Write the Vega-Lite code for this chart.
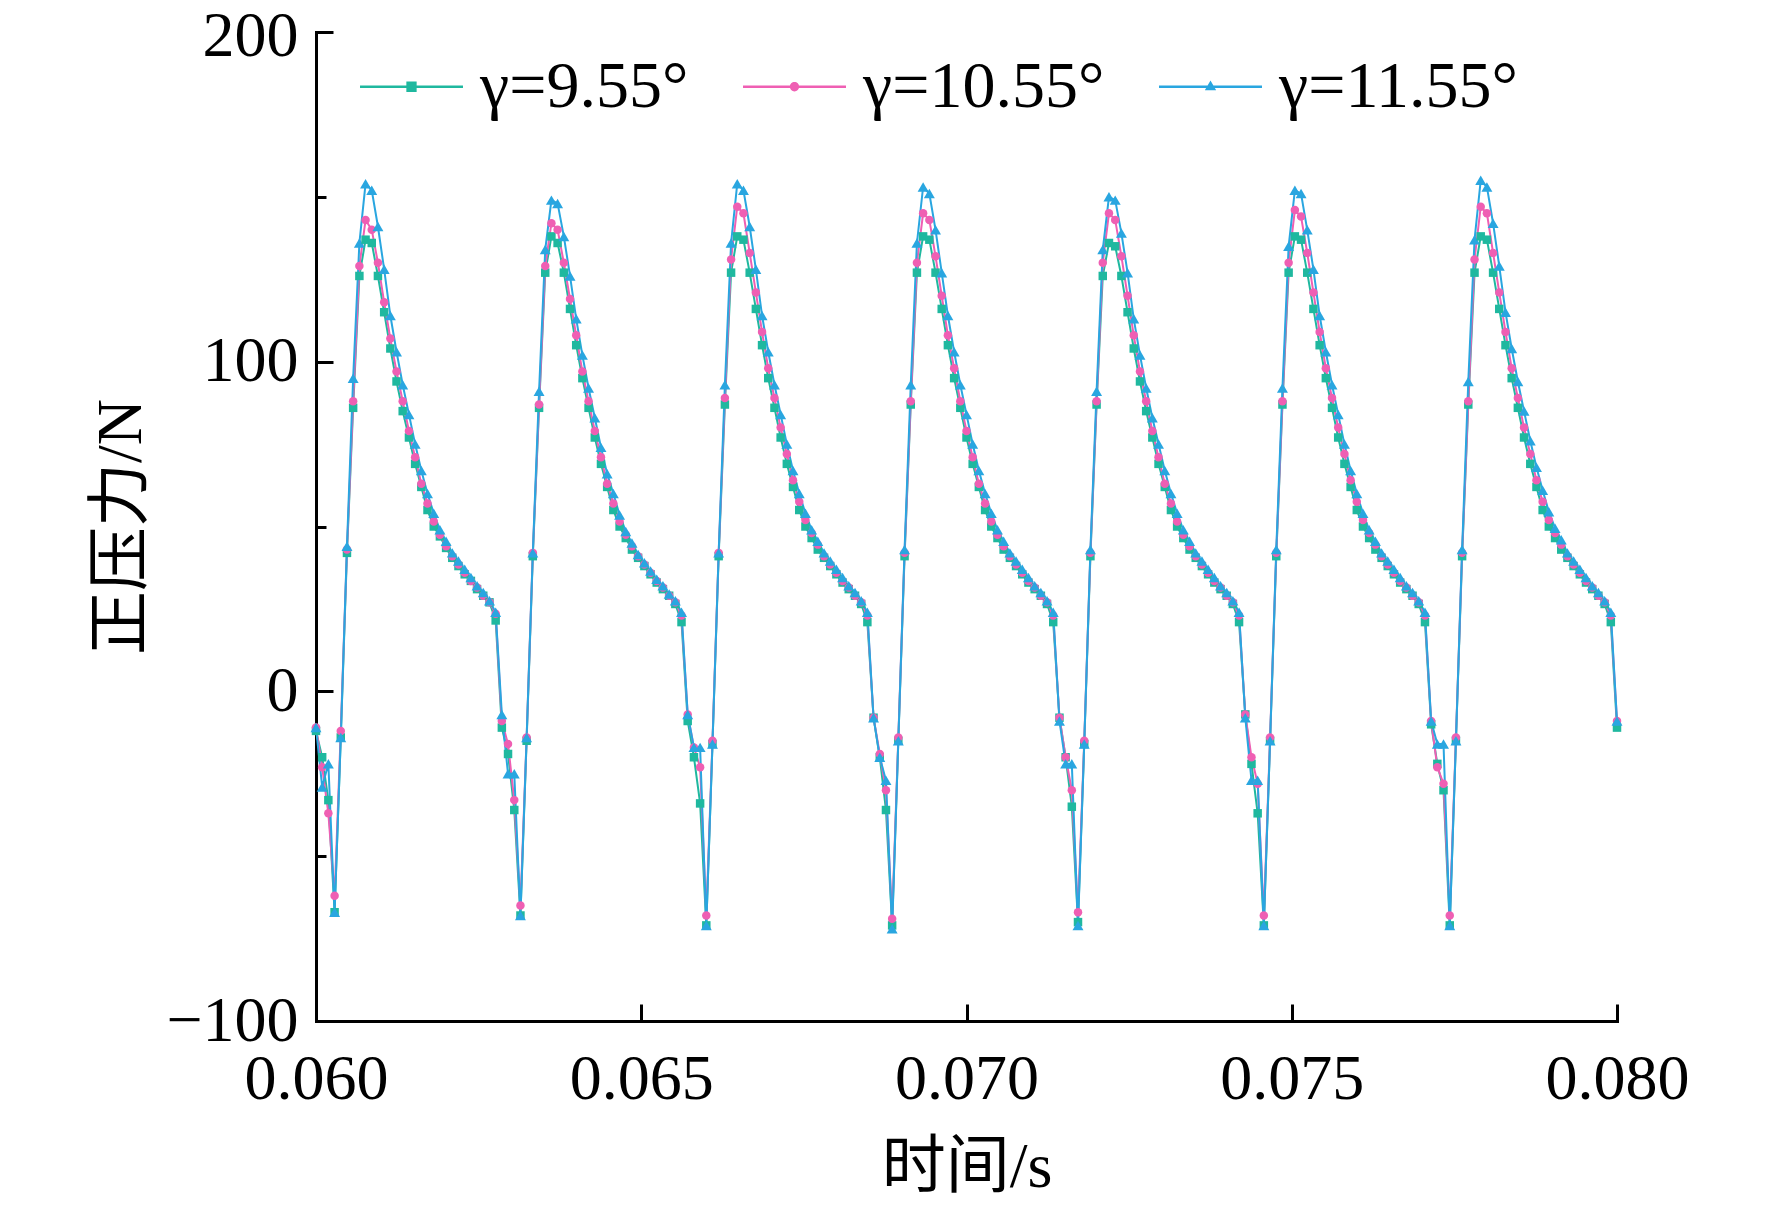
{
  "$schema": "https://vega.github.io/schema/vega-lite/v6.json",
  "width": 1301,
  "height": 989,
  "autosize": "none",
  "padding": {"left": 316, "top": 32, "right": 155, "bottom": 187},
  "background": "white",
  "config": {
    "view": {"stroke": null},
    "font": "Liberation Serif",
    "axis": {
      "grid": false,
      "domainColor": "black",
      "domainWidth": 3,
      "domainCap": "square",
      "tickColor": "black",
      "tickWidth": 3,
      "labelFont": "Liberation Serif",
      "labelFontSize": 64,
      "labelColor": "black",
      "labelFlush": false,
      "titleFont": "Liberation Serif, Noto Sans CJK SC",
      "titleFontSize": 64,
      "titleFontWeight": "normal",
      "titleColor": "black"
    }
  },
  "data": {
    "values": [
      {"t":0.06,"g":-12,"p":-11,"b":-11},
      {"t":0.060095,"g":-20,"p":-23,"b":-29},
      {"t":0.06019,"g":-33,"p":-37,"b":-22},
      {"t":0.060286,"g":-67,"p":-62,"b":-67},
      {"t":0.060381,"g":-14,"p":-12,"b":-14},
      {"t":0.060476,"g":42,"p":43,"b":44},
      {"t":0.060571,"g":86,"p":88,"b":95},
      {"t":0.060667,"g":126,"p":129,"b":136},
      {"t":0.060762,"g":137,"p":143,"b":154},
      {"t":0.060857,"g":136,"p":140,"b":152},
      {"t":0.060952,"g":126,"p":130,"b":141},
      {"t":0.061048,"g":115,"p":118,"b":128},
      {"t":0.061143,"g":104,"p":107,"b":114},
      {"t":0.061238,"g":94,"p":97,"b":103},
      {"t":0.061333,"g":85,"p":88,"b":93},
      {"t":0.061429,"g":77,"p":79,"b":84},
      {"t":0.061524,"g":69,"p":71,"b":75},
      {"t":0.061619,"g":62,"p":63,"b":67},
      {"t":0.061714,"g":55,"p":57,"b":60},
      {"t":0.06181,"g":50,"p":51.5,"b":54},
      {"t":0.061905,"g":47,"p":47.5,"b":49},
      {"t":0.062,"g":43.5,"p":44,"b":45.5},
      {"t":0.062095,"g":40.5,"p":41,"b":42},
      {"t":0.06219,"g":38,"p":38.5,"b":39.5},
      {"t":0.062286,"g":35.5,"p":36,"b":37},
      {"t":0.062381,"g":33.5,"p":33.5,"b":34.5},
      {"t":0.062476,"g":31,"p":31.5,"b":32},
      {"t":0.062571,"g":29,"p":29,"b":30},
      {"t":0.062667,"g":27,"p":27,"b":27.5},
      {"t":0.062762,"g":21.5,"p":23.5,"b":24},
      {"t":0.062857,"g":-11,"p":-9,"b":-7},
      {"t":0.062952,"g":-19,"p":-16,"b":-25},
      {"t":0.063048,"g":-36,"p":-33,"b":-25},
      {"t":0.063143,"g":-68,"p":-65,"b":-68},
      {"t":0.063238,"g":-15,"p":-14,"b":-14},
      {"t":0.063333,"g":41,"p":42,"b":42},
      {"t":0.063429,"g":86,"p":87,"b":91},
      {"t":0.063524,"g":127,"p":129,"b":134},
      {"t":0.063619,"g":138,"p":142,"b":149},
      {"t":0.063714,"g":136,"p":140,"b":148},
      {"t":0.06381,"g":127,"p":130,"b":138},
      {"t":0.063905,"g":116,"p":119,"b":126},
      {"t":0.064,"g":105,"p":108,"b":113},
      {"t":0.064095,"g":95,"p":97,"b":102},
      {"t":0.06419,"g":86,"p":88,"b":92},
      {"t":0.064286,"g":77,"p":79,"b":83},
      {"t":0.064381,"g":69,"p":71,"b":74},
      {"t":0.064476,"g":62,"p":63,"b":66},
      {"t":0.064571,"g":55,"p":57,"b":60},
      {"t":0.064667,"g":50,"p":51.5,"b":53.5},
      {"t":0.064762,"g":46.5,"p":47.5,"b":48.5},
      {"t":0.064857,"g":43,"p":44,"b":45},
      {"t":0.064952,"g":40.5,"p":41,"b":41.5},
      {"t":0.065048,"g":38,"p":38.5,"b":39},
      {"t":0.065143,"g":35.5,"p":36,"b":36.5},
      {"t":0.065238,"g":33,"p":33.5,"b":34},
      {"t":0.065333,"g":31,"p":31.5,"b":32},
      {"t":0.065429,"g":29,"p":29,"b":29.5},
      {"t":0.065524,"g":26.5,"p":27,"b":27.5},
      {"t":0.065619,"g":21,"p":23,"b":24},
      {"t":0.065714,"g":-9,"p":-7,"b":-7},
      {"t":0.06581,"g":-20,"p":-17,"b":-17},
      {"t":0.065905,"g":-34,"p":-23,"b":-17},
      {"t":0.066,"g":-71,"p":-68,"b":-71},
      {"t":0.066095,"g":-16,"p":-15,"b":-16},
      {"t":0.06619,"g":41,"p":42,"b":42},
      {"t":0.066286,"g":87,"p":89,"b":93},
      {"t":0.066381,"g":127,"p":131,"b":136},
      {"t":0.066476,"g":138,"p":147,"b":154},
      {"t":0.066571,"g":137,"p":145,"b":152},
      {"t":0.066667,"g":127,"p":133,"b":141},
      {"t":0.066762,"g":116,"p":121,"b":128},
      {"t":0.066857,"g":105,"p":109,"b":114},
      {"t":0.066952,"g":95,"p":98,"b":103},
      {"t":0.067048,"g":86,"p":89,"b":93},
      {"t":0.067143,"g":77,"p":80,"b":84},
      {"t":0.067238,"g":69,"p":72,"b":75},
      {"t":0.067333,"g":62,"p":64,"b":67},
      {"t":0.067429,"g":55,"p":57.5,"b":60},
      {"t":0.067524,"g":50,"p":52,"b":54},
      {"t":0.067619,"g":46.5,"p":48,"b":49},
      {"t":0.067714,"g":43,"p":44.5,"b":45.5},
      {"t":0.06781,"g":40.5,"p":41,"b":42},
      {"t":0.067905,"g":38,"p":38.5,"b":39.5},
      {"t":0.068,"g":35.5,"p":36,"b":37},
      {"t":0.068095,"g":33,"p":33.5,"b":34.5},
      {"t":0.06819,"g":31,"p":31.5,"b":32},
      {"t":0.068286,"g":29,"p":29,"b":30},
      {"t":0.068381,"g":26.5,"p":27,"b":27.5},
      {"t":0.068476,"g":21,"p":23,"b":24},
      {"t":0.068571,"g":-8,"p":-8,"b":-8},
      {"t":0.068667,"g":-20,"p":-19,"b":-20},
      {"t":0.068762,"g":-36,"p":-30,"b":-27},
      {"t":0.068857,"g":-71,"p":-69,"b":-72},
      {"t":0.068952,"g":-15,"p":-14,"b":-15},
      {"t":0.069048,"g":41,"p":42,"b":43},
      {"t":0.069143,"g":87,"p":88,"b":93},
      {"t":0.069238,"g":127,"p":130,"b":136},
      {"t":0.069333,"g":138,"p":145,"b":153},
      {"t":0.069429,"g":137,"p":143,"b":151},
      {"t":0.069524,"g":127,"p":132,"b":140},
      {"t":0.069619,"g":116,"p":120,"b":127},
      {"t":0.069714,"g":105,"p":108,"b":114},
      {"t":0.06981,"g":95,"p":98,"b":103},
      {"t":0.069905,"g":86,"p":88,"b":93},
      {"t":0.07,"g":77,"p":79,"b":84},
      {"t":0.070095,"g":69,"p":71,"b":75},
      {"t":0.07019,"g":62,"p":63,"b":67},
      {"t":0.070286,"g":55,"p":57,"b":60},
      {"t":0.070381,"g":50,"p":51.5,"b":54},
      {"t":0.070476,"g":46.5,"p":47.5,"b":49},
      {"t":0.070571,"g":43,"p":44,"b":45.5},
      {"t":0.070667,"g":40.5,"p":41,"b":42},
      {"t":0.070762,"g":38,"p":38.5,"b":39.5},
      {"t":0.070857,"g":35.5,"p":36,"b":37},
      {"t":0.070952,"g":33,"p":33.5,"b":34.5},
      {"t":0.071048,"g":31,"p":31.5,"b":32},
      {"t":0.071143,"g":29,"p":29,"b":30},
      {"t":0.071238,"g":26.5,"p":27,"b":27.5},
      {"t":0.071333,"g":21,"p":23,"b":24},
      {"t":0.071429,"g":-8,"p":-8,"b":-9},
      {"t":0.071524,"g":-20,"p":-20,"b":-22},
      {"t":0.071619,"g":-35,"p":-30,"b":-22},
      {"t":0.071714,"g":-70,"p":-67,"b":-71},
      {"t":0.07181,"g":-16,"p":-15,"b":-16},
      {"t":0.071905,"g":41,"p":42,"b":43},
      {"t":0.072,"g":87,"p":88,"b":91},
      {"t":0.072095,"g":126,"p":130,"b":134},
      {"t":0.07219,"g":136,"p":145,"b":150},
      {"t":0.072286,"g":135,"p":143,"b":149},
      {"t":0.072381,"g":126,"p":132,"b":139},
      {"t":0.072476,"g":115,"p":120,"b":127},
      {"t":0.072571,"g":104,"p":108,"b":113},
      {"t":0.072667,"g":94,"p":97,"b":102},
      {"t":0.072762,"g":85,"p":88,"b":92},
      {"t":0.072857,"g":77,"p":79,"b":83},
      {"t":0.072952,"g":69,"p":71,"b":75},
      {"t":0.073048,"g":62,"p":63,"b":67},
      {"t":0.073143,"g":55,"p":57,"b":60},
      {"t":0.073238,"g":50,"p":51.5,"b":54},
      {"t":0.073333,"g":46.5,"p":47.5,"b":49},
      {"t":0.073429,"g":43,"p":44,"b":45.5},
      {"t":0.073524,"g":40.5,"p":41,"b":42},
      {"t":0.073619,"g":38,"p":38.5,"b":39.5},
      {"t":0.073714,"g":35.5,"p":36,"b":37},
      {"t":0.07381,"g":33,"p":33.5,"b":34.5},
      {"t":0.073905,"g":31,"p":31.5,"b":32},
      {"t":0.074,"g":29,"p":29,"b":30},
      {"t":0.074095,"g":26.5,"p":27,"b":27.5},
      {"t":0.07419,"g":21,"p":23,"b":24},
      {"t":0.074286,"g":-7,"p":-7,"b":-8},
      {"t":0.074381,"g":-22,"p":-20,"b":-27},
      {"t":0.074476,"g":-37,"p":-28,"b":-27},
      {"t":0.074571,"g":-71,"p":-68,"b":-71},
      {"t":0.074667,"g":-15,"p":-14,"b":-15},
      {"t":0.074762,"g":41,"p":42,"b":43},
      {"t":0.074857,"g":87,"p":88,"b":92},
      {"t":0.074952,"g":127,"p":130,"b":135},
      {"t":0.075048,"g":138,"p":146,"b":152},
      {"t":0.075143,"g":137,"p":144,"b":151},
      {"t":0.075238,"g":127,"p":133,"b":140},
      {"t":0.075333,"g":116,"p":121,"b":128},
      {"t":0.075429,"g":105,"p":109,"b":114},
      {"t":0.075524,"g":95,"p":98,"b":103},
      {"t":0.075619,"g":86,"p":89,"b":93},
      {"t":0.075714,"g":77,"p":80,"b":84},
      {"t":0.07581,"g":69,"p":72,"b":75},
      {"t":0.075905,"g":62,"p":64,"b":67},
      {"t":0.076,"g":55,"p":57.5,"b":60},
      {"t":0.076095,"g":50,"p":52,"b":54},
      {"t":0.07619,"g":46.5,"p":48,"b":49},
      {"t":0.076286,"g":43,"p":44.5,"b":45.5},
      {"t":0.076381,"g":40.5,"p":41,"b":42},
      {"t":0.076476,"g":38,"p":38.5,"b":39.5},
      {"t":0.076571,"g":35.5,"p":36,"b":37},
      {"t":0.076667,"g":33,"p":33.5,"b":34.5},
      {"t":0.076762,"g":31,"p":31.5,"b":32},
      {"t":0.076857,"g":29,"p":29,"b":30},
      {"t":0.076952,"g":26.5,"p":27,"b":27.5},
      {"t":0.077048,"g":21,"p":23,"b":24},
      {"t":0.077143,"g":-10,"p":-9,"b":-9},
      {"t":0.077238,"g":-22,"p":-23,"b":-16},
      {"t":0.077333,"g":-30,"p":-28,"b":-16},
      {"t":0.077429,"g":-71,"p":-68,"b":-71},
      {"t":0.077524,"g":-15,"p":-14,"b":-15},
      {"t":0.077619,"g":41,"p":42,"b":43},
      {"t":0.077714,"g":87,"p":88,"b":94},
      {"t":0.07781,"g":127,"p":131,"b":137},
      {"t":0.077905,"g":138,"p":147,"b":155},
      {"t":0.078,"g":137,"p":145,"b":153},
      {"t":0.078095,"g":127,"p":133,"b":142},
      {"t":0.07819,"g":116,"p":121,"b":129},
      {"t":0.078286,"g":105,"p":109,"b":115},
      {"t":0.078381,"g":95,"p":98,"b":104},
      {"t":0.078476,"g":86,"p":89,"b":94},
      {"t":0.078571,"g":77,"p":80,"b":85},
      {"t":0.078667,"g":69,"p":72,"b":76},
      {"t":0.078762,"g":62,"p":64,"b":68},
      {"t":0.078857,"g":55,"p":57.5,"b":61},
      {"t":0.078952,"g":50,"p":52,"b":54.5},
      {"t":0.079048,"g":46.5,"p":48,"b":49.5},
      {"t":0.079143,"g":43,"p":44.5,"b":46},
      {"t":0.079238,"g":40.5,"p":41,"b":42},
      {"t":0.079333,"g":38,"p":38.5,"b":39.5},
      {"t":0.079429,"g":35.5,"p":36,"b":37},
      {"t":0.079524,"g":33,"p":33.5,"b":34.5},
      {"t":0.079619,"g":31,"p":31.5,"b":32},
      {"t":0.079714,"g":29,"p":29,"b":30},
      {"t":0.07981,"g":26.5,"p":27,"b":27.5},
      {"t":0.079905,"g":21,"p":23,"b":24},
      {"t":0.08,"g":-11,"p":-9,"b":-9}
    ]
  },
  "transform": [{"fold": ["g", "p", "b"], "as": ["s", "v"]}],
  "encoding": {
    "x": {
      "field": "t",
      "type": "quantitative",
      "scale": {"domain": [0.06, 0.08], "nice": false, "zero": false},
      "axis": {
        "title": "时间/s",
        "values": [0.06, 0.065, 0.07, 0.075, 0.08],
        "format": ".3f",
        "tickSize": -17,
        "labelPadding": 43,
        "titlePadding": 24
      }
    },
    "y": {
      "field": "v",
      "type": "quantitative",
      "scale": {"domain": [-100, 200], "nice": false, "zero": false},
      "axis": {
        "title": "正压力/N",
        "values": [-100, -50, 0, 50, 100, 150, 200],
        "labelExpr": "datum.value % 100 === 0 ? datum.label : ''",
        "tickSize": {"condition": {"test": "datum.value % 100 === 0", "value": -17}, "value": -10},
        "labelOffset": {"condition": {"test": "datum.value === 200", "value": 4}, "value": 0},
        "labelPadding": 35,
        "titlePadding": 12
      }
    },
    "color": {
      "field": "s",
      "type": "nominal",
      "scale": {"domain": ["g", "p", "b"], "range": ["#1fb89f", "#ef5fb3", "#29a6e0"]},
      "legend": {
        "orient": "none",
        "legendX": 44,
        "legendY": 3,
        "direction": "horizontal",
        "title": null,
        "labelExpr": "datum.value === 'g' ? 'γ=9.55°' : datum.value === 'p' ? 'γ=10.55°' : 'γ=11.55°'",
        "labelFont": "Liberation Serif",
        "labelFontSize": 66,
        "labelColor": "black",
        "labelLimit": 0,
        "labelOffset": 17,
        "columnPadding": 54,
        "symbolSize": 10600,
        "symbolStrokeWidth": 0,
        "encode": {
          "symbols": {
            "update": {
              "shape": {"signal": "datum.value === 'g' ? 'M-1,-0.025H1V0.025H-1Z M-0.1,-0.1H0.1V0.1H-0.1Z' : datum.value === 'p' ? 'M-1,-0.025H1V0.025H-1Z M0.09,0A0.09,0.09 0 1,1 -0.09,0A0.09,0.09 0 1,1 0.09,0Z' : 'M-1,-0.025H1V0.025H-1Z M0,-0.12L0.11,0.07L-0.11,0.07Z'"},
              "fill": {"signal": "scale('color', datum.value)"},
              "strokeWidth": {"value": 0},
              "opacity": {"value": 1}
            }
          }
        }
      }
    }
  },
  "layer": [
    {"mark": {"type": "line", "strokeWidth": 2}},
    {
      "mark": {"type": "point", "filled": true, "opacity": 1},
      "encoding": {
        "shape": {
          "condition": [
            {"test": "datum.s === 'g'", "value": "square"},
            {"test": "datum.s === 'p'", "value": "circle"}
          ],
          "value": "triangle-up"
        },
        "size": {"condition": {"test": "datum.s === 'b'", "value": 120}, "value": 72}
      }
    }
  ]
}
